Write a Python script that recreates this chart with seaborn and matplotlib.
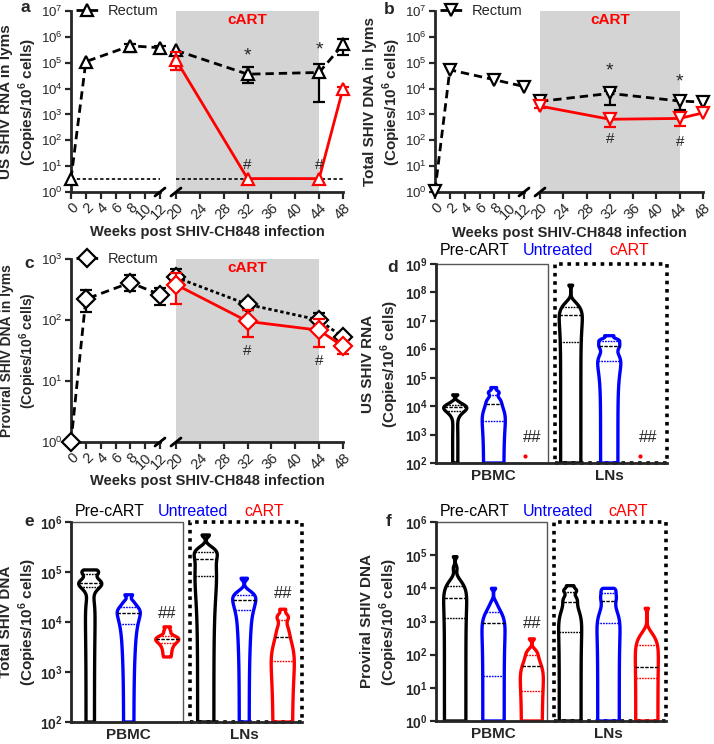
import numpy as np
import pandas as pd
import matplotlib
matplotlib.use("Agg")
import matplotlib.pyplot as plt
from matplotlib.patches import Rectangle
from matplotlib.ticker import FuncFormatter, NullLocator
import seaborn as sns

# ── Rectum time course (weeks post SHIV-CH848 infection) ─────────────────────
WEEKS_PRE = [0, 2, 8, 12]
WEEKS_ART = [20, 32, 44, 48]
NAN = np.nan

# a: US SHIV RNA            values / lower / upper
A_PRE = ([3.2, 1.1e5, 4.5e5, 3.8e5], [NAN, NAN, 2.7e5, 2.3e5], [NAN, NAN, 5.5e5, 4.6e5])
A_UNT = ([3.0e5, 3.6e4, 4.2e4, 5.1e5], [NAN, 1.6e4, 3.1e3, 2.0e5], [NAN, 7.0e4, 8.8e4, 8.2e5])
A_ART = ([1.3e5, 3.3, 3.3, 1.0e4], [5.3e4, NAN, NAN, 6.5e3], [2.5e5, NAN, NAN, 1.2e4])
A_LOD = 3.3

# b: total SHIV DNA
B_PRE = ([1.1, 5.3e4, 2.2e4, 1.2e4], [NAN] * 4, [NAN] * 4)
B_UNT = ([3.2e3, 6.5e3, 3.3e3, 3.0e3], [NAN, 2.3e3, 1.5e3, NAN], [NAN, 8.0e3, NAN, NAN])
B_ART = ([2.1e3, 6.5e2, 7.0e2, 1.15e3], [1.7e3, 3.3e2, 3.5e2, NAN], [NAN] * 4)

# c: proviral SHIV DNA
C_PRE = ([1.0, 220, 410, 260], [NAN, 135, 300, 175], [NAN, 310, 540, 330])
C_UNT = ([500, 180, 100, 52], [NAN, 145, 80, NAN], [690, 215, 130, NAN])
C_ART = ([380, 95, 68, 37], [185, 52, 36, 28], [590, 145, 105, 45])

# ── Violin panels: tissue x group samples (copies / 10^6 cells) ──────────────
TISSUES = ["PBMC", "LNs"]
GROUPS = ["Pre-cART", "Untreated", "cART"]

D_PBMC_PRE = [100, 6000, 7000, 8000, 9000, 10000, 11000, 14000, 25000]
D_PBMC_UNT = [100, 1000, 2300, 5000, 10000, 14000, 18000, 28000, 32000, 45000]
D_PBMC_ART = [180]
D_LN_PRE = [100, 5e5, 1.8e6, 8e6, 1.6e7, 2e7, 3e7, 4e7, 1.8e8]
D_LN_UNT = [100, 3.5e5, 4e5, 1e6, 1.3e6, 1.6e6, 2e6, 2.2e6, 3e6]
D_LN_ART = [180]

E_PBMC_PRE = [100, 2e4, 5e4, 5.5e4, 6e4, 7e4, 9e4, 1e5, 1.1e5]
E_PBMC_UNT = [100, 5000, 9000, 1.2e4, 1.5e4, 1.7e4, 2e4, 2.5e4, 3.5e4]
E_PBMC_ART = [2000, 3000, 3800, 4200, 4500, 4800, 5200, 6500, 8000]
E_LN_PRE = [100, 3e4, 8.5e4, 1.2e5, 1.8e5, 2.2e5, 2.5e5, 3e5, 5.5e5]
E_LN_UNT = [100, 8000, 1.7e4, 2e4, 2.7e4, 3e4, 3.4e4, 4e4, 7.5e4]
E_LN_ART = [100, 400, 1500, 2000, 4000, 5800, 8000, 1.2e4, 1.3e4, 1.8e4]

F_PBMC_PRE = [1, 300, 1300, 3000, 5000, 8000, 1.2e4, 4e4, 9e4]
F_PBMC_UNT = [1, 5, 23, 200, 900, 1500, 2000, 3500, 1e4]
F_PBMC_ART = [1, 3, 8, 20, 45, 70, 100, 130, 300]
F_LN_PRE = [1, 50, 470, 2000, 4000, 5000, 8000, 9000, 1.2e4]
F_LN_UNT = [1, 80, 900, 2500, 4200, 5500, 7000, 8500, 1e4]
F_LN_ART = [1, 5, 20, 30, 42, 80, 200, 350, 2500]

RED, BLUE, SHADE = "#ff0000", "#0000ff", "#d4d4d4"
PALETTE = {"Pre-cART": "k", "Untreated": BLUE, "cART": RED}
DASH = (0, (3, 1.8))
W_PX, H_PX = 714, 744

sns.set_style("ticks")
plt.rcParams.update({
    "font.size": 10,
    "mathtext.fontset": "custom",
    "mathtext.rm": "Liberation Sans",
    "mathtext.bf": "Liberation Sans:bold",
    "axes.linewidth": 2,
})
plt.rcParams["font.family"] = ["Liberation Sans", "DejaVu Sans"]

fig = plt.figure(figsize=(W_PX / 100, H_PX / 100), dpi=100)


def px_rect(x0, x1, y0, y1):
    """Axes rectangle from pixel edges (left, right, top, bottom)."""
    return [x0 / W_PX, 1 - y1 / H_PX, (x1 - x0) / W_PX, (y1 - y0) / H_PX]


def log_ticks(ax, lo, hi, bold=False):
    ax.set_yscale("log")
    ax.set_ylim(10.0 ** lo, 10.0 ** hi)
    ax.set_yticks([10.0 ** k for k in range(lo, hi + 1)])
    ax.yaxis.set_minor_locator(NullLocator())
    fmt = r"$\mathbf{10^{%d}}$" if bold else r"$\mathregular{10^{%d}}$"
    ax.yaxis.set_major_formatter(FuncFormatter(lambda v, p: fmt % round(np.log10(v))))
    ax.tick_params(axis="y", width=1.6, length=4.5, pad=1.5,
                   labelsize=10 if bold else 9.5)


def place_ylabel(ax, text, px_right, size=11):
    ax.set_ylabel(text, fontweight="bold", fontsize=size, linespacing=1.2)
    w = ax.get_position().width * W_PX
    ax.yaxis.set_label_coords(-px_right / w, 0.5)


def draw_series(ax, x, series, color, ls, marker, label=None, z=4):
    y, lo, hi = series
    sns.lineplot(x=x, y=y, ax=ax, color=color, linestyle=ls, linewidth=2,
                 marker=marker, markersize=9, markerfacecolor="white",
                 markeredgecolor=color, markeredgewidth=1.6, errorbar=None,
                 clip_on=False, label=label, zorder=z)
    for bound in (lo, hi):
        ok = [i for i, b in enumerate(bound) if np.isfinite(b)]
        if not ok:
            continue
        xb = [x[i] for i in ok]
        ax.vlines(xb, [y[i] for i in ok], [bound[i] for i in ok],
                  color=color, lw=1.6, zorder=z - 1, clip_on=False)
        ax.plot(xb, [bound[i] for i in ok], ls="none", marker="_", ms=9,
                mew=1.6, color=color, zorder=z - 1, clip_on=False)


def slash(ax, xfrac):
    pos = ax.get_position()
    w, h = pos.width * W_PX, pos.height * H_PX
    ax.plot([xfrac - 5 / w, xfrac + 5 / w], [-4 / h, 4 / h], color="k", lw=2,
            transform=ax.transAxes, clip_on=False, zorder=6)


def panel_letter(letter, xy):
    fig.text(xy[0] / W_PX, 1 - xy[1] / H_PX, letter, fontweight="bold",
             fontsize=12.5, ha="center", va="center")


def time_panel(rl, rr, letter, letter_xy, ylabel, ytop, marker, pre, unt, art,
               unt_ls, xlabel_y, lod=None, marks=(), label_size=11):
    axl = fig.add_axes(rl)
    axr = fig.add_axes(rr, sharey=axl)
    log_ticks(axl, 0, ytop)
    axr.axvspan(20, 44, color=SHADE, lw=0, zorder=0)
    draw_series(axl, WEEKS_PRE, pre, "k", DASH, marker, label="Rectum")
    draw_series(axr, WEEKS_ART, unt, "k", unt_ls, marker)
    draw_series(axr, WEEKS_ART, art, RED, "-", marker, z=6)
    if lod is not None:
        for ax in (axl, axr):
            ax.axhline(lod, color="k", ls=(0, (2, 1.5)), lw=1.2, zorder=1)
    axl.set_xlim(0, 12)
    axl.set_xticks(range(0, 13, 2))
    axr.set_xlim(20, 48)
    axr.set_xticks(range(20, 49, 4))
    for ax in (axl, axr):
        sns.despine(ax=ax)
        ax.tick_params(axis="x", width=1.6, length=5, labelsize=10.5, pad=1)
        for lab in ax.get_xticklabels():
            lab.set_rotation(45)
            lab.set_ha("right")
            lab.set_rotation_mode("anchor")
    axr.spines["left"].set_visible(False)
    axr.tick_params(axis="y", left=False, labelleft=False)
    slash(axl, 1.0)
    slash(axr, 0.0)
    place_ylabel(axl, ylabel, 32, label_size)
    leg = axl.legend(loc="center left", bbox_to_anchor=(0.055, 1.0), frameon=False,
                     handlelength=1.5, handletextpad=0.7, borderaxespad=0,
                     borderpad=0, fontsize=10.5)
    leg.set_zorder(10)
    axr.text(32, 0.95, "cART", color=RED, fontweight="bold", fontsize=11,
             ha="center", va="center", transform=axr.get_xaxis_transform())
    for week, value, txt, dy in marks:
        axr.annotate(txt, xy=(week, value), xytext=(0, dy), textcoords="offset points",
                     ha="center", va="center", fontsize=14 if txt == "*" else 11,
                     zorder=8)
    x0 = rl[0]
    x1 = rr[0] + rr[2]
    fig.text((x0 + x1) / 2, 1 - xlabel_y / H_PX, "Weeks post SHIV-CH848 infection",
             ha="center", va="center", fontweight="bold", fontsize=10.5)
    panel_letter(letter, letter_xy)


def long_df(cells):
    rows = [(t, g, v) for (t, g), vals in cells.items() for v in vals]
    return pd.DataFrame(rows, columns=["tissue", "group", "value"])


def violin_panel(rect, letter, letter_xy, ylabel, lo, hi, cells, dots=None,
                 hashes=(), header_y=1.055, bw=0.5, label_px=35):
    ax = fig.add_axes(rect)
    n0 = len(ax.lines)
    # densities estimated on the linear values, shown on a log axis
    sns.violinplot(data=long_df(cells), x="tissue", y="value", hue="group",
                   order=TISSUES, hue_order=GROUPS, palette=PALETTE, fill=False,
                   linewidth=2.4, inner="quart", inner_kws={"linewidth": 1},
                   cut=0, density_norm="width", width=1.0, gap=0.4,
                   bw_adjust=bw, gridsize=1500, legend=False, ax=ax)
    for ln in ax.lines[n0 + 1::3]:
        ln.set_color("k")
    if dots is not None:
        sns.stripplot(data=long_df(dots), x="tissue", y="value", hue="group",
                      order=TISSUES, hue_order=GROUPS, palette=PALETTE, dodge=True,
                      jitter=False, size=3, legend=False, ax=ax)
    log_ticks(ax, lo, hi, bold=True)
    ax.set_xlim(-0.5, 1.5)
    sns.despine(ax=ax)
    ax.tick_params(axis="x", length=0, labelsize=11, pad=4)
    for lab in ax.get_xticklabels():
        lab.set_fontweight("bold")
    ax.set_xlabel("")
    place_ylabel(ax, ylabel, label_px)
    ax.add_patch(Rectangle((0, 0), 0.484, 1, transform=ax.transAxes, fill=False,
                           ec="#555555", lw=1, clip_on=False, zorder=0.5))
    ax.add_patch(Rectangle((0.514, 0), 0.486, 1, transform=ax.transAxes, fill=False,
                           ec="k", lw=2.6, ls=(0, (1, 1.3)), clip_on=False, zorder=0.5))
    offsets = (np.arange(len(GROUPS)) - 1) / len(GROUPS)
    for tissue, vmax, dy in hashes:
        ax.annotate("##", xy=(TISSUES.index(tissue) + offsets[2], vmax),
                    xytext=(0, dy), textcoords="offset points", ha="center",
                    va="bottom", fontsize=12)
    for txt, xf in zip(GROUPS, [0.015, 0.375, 0.75]):
        ax.text(xf, header_y, txt, color=PALETTE[txt], transform=ax.transAxes,
                ha="left", va="center", fontsize=11.5)
    panel_letter(letter, letter_xy)


CP = r"(Copies/10$^{\mathbf{6}}$ cells)"

time_panel(px_rect(71, 160, 11, 192), px_rect(176, 343, 11, 192), "a", (25, 8),
           "US SHIV RNA in lyms\n" + CP, 7, "^", A_PRE, A_UNT, A_ART, DASH, 232,
           lod=A_LOD,
           marks=[(32, A_UNT[0][1], "*", 13), (44, A_UNT[0][2], "*", 16),
                  (32, A_ART[0][1], "#", 10), (44, A_ART[0][2], "#", 10)])

time_panel(px_rect(435, 524, 11, 192), px_rect(540, 703, 11, 192), "b", (389, 9),
           "Total SHIV DNA in lyms\n" + CP, 7, "v", B_PRE, B_UNT, B_ART, DASH, 233,
           marks=[(32, B_UNT[0][1], "*", 16), (44, B_UNT[0][2], "*", 14),
                  (32, B_ART[0][1], "#", -14), (44, B_ART[0][2], "#", -17)])

time_panel(px_rect(71, 160, 259, 442), px_rect(176, 343, 259, 442), "c", (29, 263),
           "Proviral SHIV DNA in lyms\n" + CP, 3, "D", C_PRE, C_UNT, C_ART,
           (0, (1.2, 1)), 481, label_size=10,
           marks=[(32, C_ART[0][1], "#", -21), (44, C_ART[0][2], "#", -22)])

violin_panel(px_rect(436, 667, 264, 463), "d", (393, 268),
             "US SHIV RNA\n" + CP, 2, 9,
             {("PBMC", "Pre-cART"): D_PBMC_PRE, ("PBMC", "Untreated"): D_PBMC_UNT,
              ("LNs", "Pre-cART"): D_LN_PRE, ("LNs", "Untreated"): D_LN_UNT},
             dots={("PBMC", "cART"): D_PBMC_ART, ("LNs", "cART"): D_LN_ART},
             hashes=[("PBMC", max(D_PBMC_ART), 8), ("LNs", max(D_LN_ART), 8)],
             header_y=1.07, label_px=35)

violin_panel(px_rect(71, 302, 522, 722), "e", (29, 522),
             "Total SHIV DNA\n" + CP, 2, 6,
             {("PBMC", "Pre-cART"): E_PBMC_PRE, ("PBMC", "Untreated"): E_PBMC_UNT,
              ("PBMC", "cART"): E_PBMC_ART, ("LNs", "Pre-cART"): E_LN_PRE,
              ("LNs", "Untreated"): E_LN_UNT, ("LNs", "cART"): E_LN_ART},
             hashes=[("PBMC", max(E_PBMC_ART), 4), ("LNs", max(E_LN_ART), 6)],
             label_px=32)

violin_panel(px_rect(436, 666, 522, 721), "f", (389, 522),
             "Proviral SHIV DNA\n" + CP, 0, 6,
             {("PBMC", "Pre-cART"): F_PBMC_PRE, ("PBMC", "Untreated"): F_PBMC_UNT,
              ("PBMC", "cART"): F_PBMC_ART, ("LNs", "Pre-cART"): F_LN_PRE,
              ("LNs", "Untreated"): F_LN_UNT, ("LNs", "cART"): F_LN_ART},
             hashes=[("PBMC", max(F_PBMC_ART), 6)], label_px=36)

fig.savefig("out.png", dpi=100)
